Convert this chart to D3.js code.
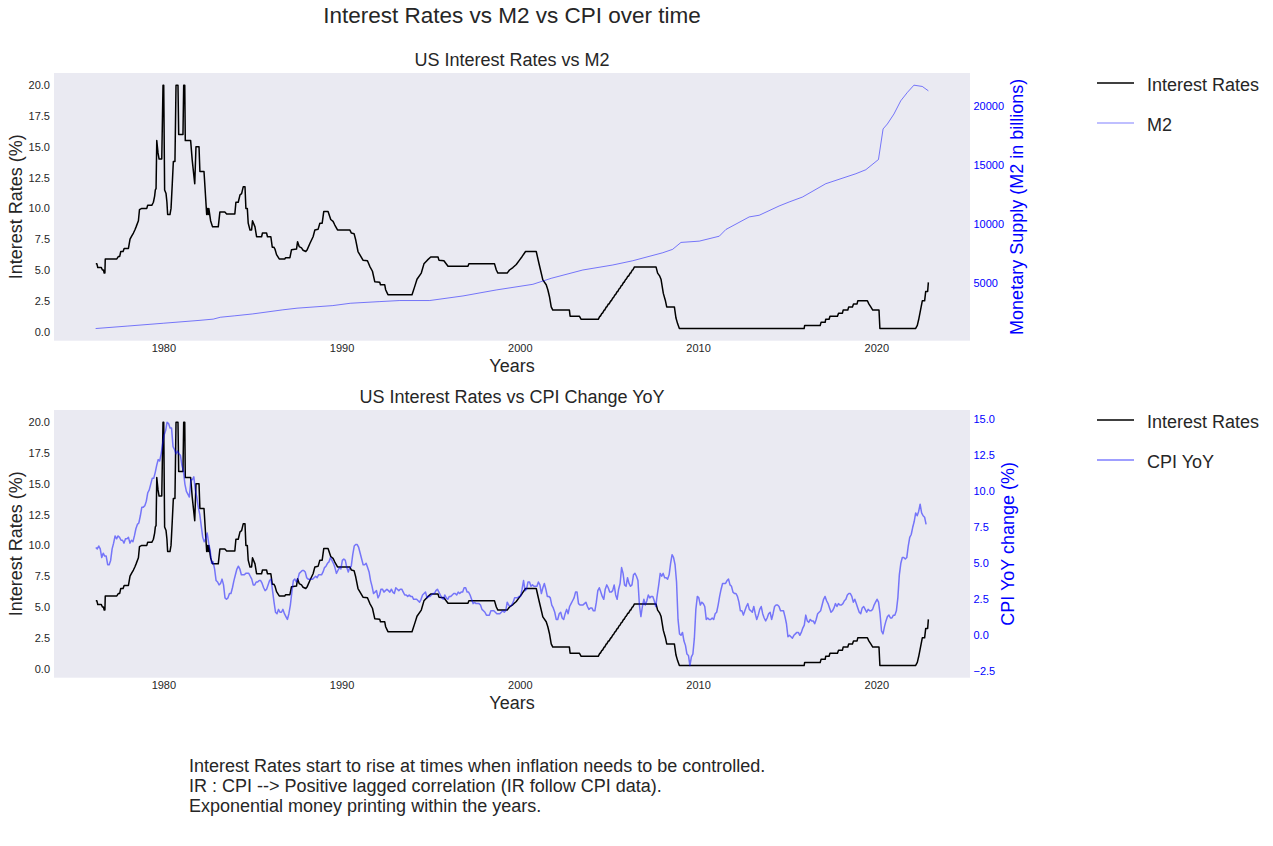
<!DOCTYPE html>
<html>
<head>
<meta charset="utf-8">
<script src="https://cdn.jsdelivr.net/npm/d3@7"></script>
<style>
  body { margin: 0; background: #fff; }
  text { font-family: "Liberation Sans", Arial, sans-serif; }
</style>
</head>
<body>
<svg id="chart" width="1273" height="846"></svg>
<script>
// ---- data ----
const irYears = [
  1976.21, 1976.27, 1976.32, 1976.52, 1976.58, 1976.64, 1976.68, 1976.72, 1976.74, 1977.39,
  1977.48, 1977.55, 1977.61, 1977.74, 1977.80, 1978.04, 1978.13, 1978.22, 1978.32, 1978.40,
  1978.47, 1978.60, 1978.66, 1978.79, 1979.07, 1979.12, 1979.35, 1979.44, 1979.51, 1979.55,
  1979.59, 1979.63, 1979.70, 1979.76, 1979.91, 1979.98, 1980.02, 1980.07, 1980.15, 1980.20,
  1980.24, 1980.37, 1980.43, 1980.50, 1980.56, 1980.65, 1980.71, 1980.82, 1980.86, 1981.10,
  1981.14, 1981.20, 1981.23, 1981.53, 1981.62, 1981.76, 1981.83, 1982.00, 1982.05, 1982.28,
  1982.43, 1982.47, 1982.52, 1982.55, 1982.65, 1982.76, 1983.08, 1983.17, 1983.45, 1983.55,
  1984.01, 1984.07, 1984.20, 1984.30, 1984.39, 1984.48, 1984.58, 1984.63, 1984.71, 1984.76,
  1984.86, 1984.95, 1985.00, 1985.14, 1985.23, 1985.51, 1985.56, 1985.79, 1985.84, 1986.03,
  1986.11, 1986.20, 1986.26, 1986.35, 1986.50, 1986.82, 1986.85, 1987.10, 1987.19, 1987.47,
  1987.53, 1987.62, 1987.75, 1987.84, 1987.99, 1988.07, 1988.22, 1988.40, 1988.50, 1988.68,
  1988.78, 1988.91, 1989.00, 1989.24, 1989.39, 1989.52, 1989.62, 1989.77, 1990.46, 1990.55,
  1990.70, 1990.79, 1990.92, 1991.02, 1991.20, 1991.45, 1991.58, 1991.73, 1991.86, 1992.14,
  1992.18, 1992.42, 1992.47, 1992.60, 1993.95, 1994.10, 1994.23, 1994.47, 1994.62, 1994.81,
  1995.00, 1995.41, 1995.46, 1995.74, 1995.97, 1997.09, 1997.14, 1998.58, 1998.68, 1998.77,
  1999.29, 1999.42, 1999.61, 1999.80, 1999.98, 2000.13, 2000.32, 2000.92, 2001.07, 2001.16,
  2001.29, 2001.48, 2001.57, 2001.66, 2001.76, 2001.85, 2002.78, 2002.82, 2003.34, 2003.44,
  2004.37, 2004.40, 2004.49, 2004.52, 2004.61, 2004.64, 2004.73, 2004.76, 2004.85, 2004.88,
  2004.97, 2005.01, 2005.10, 2005.13, 2005.22, 2005.25, 2005.34, 2005.37, 2005.46, 2005.49,
  2005.58, 2005.61, 2005.70, 2005.73, 2005.82, 2005.85, 2005.94, 2005.97, 2006.06, 2006.10,
  2006.19, 2006.22, 2006.31, 2006.34, 2006.43, 2007.64, 2007.73, 2007.85, 2007.92, 2008.05,
  2008.16, 2008.24, 2008.67, 2008.76, 2008.85, 2008.95, 2015.95, 2015.98, 2016.85, 2016.90,
  2017.13, 2017.16, 2017.35, 2017.40, 2017.82, 2017.88, 2018.10, 2018.14, 2018.40, 2018.45,
  2018.66, 2018.72, 2018.92, 2018.96, 2019.50, 2019.58, 2019.69, 2019.80, 2020.15, 2020.20,
  2022.20, 2022.30, 2022.38, 2022.58, 2022.71, 2022.77, 2022.88, 2022.92
];
const irRates = [
  5.5, 5.5, 5.2, 5.2, 5.0, 5.0, 4.75, 4.75, 5.9, 5.9,
  6.1, 6.1, 6.5, 6.5, 6.75, 6.75, 7.5, 7.75, 8.0, 8.25,
  8.5, 9.0, 9.9, 10.0, 10.0, 10.25, 10.25, 10.5, 11.0, 11.5,
  11.6, 15.5, 14.5, 14.0, 14.0, 20.0, 20.0, 11.5, 11.2, 10.5,
  9.5, 9.5, 10.0, 12.0, 13.8, 13.8, 20.0, 20.0, 16.0, 16.0,
  20.0, 20.0, 15.5, 15.5, 13.9, 12.0, 15.0, 15.0, 13.0, 13.0,
  9.5, 10.0, 9.5, 10.0, 9.0, 8.5, 8.5, 9.7, 9.7, 9.55,
  9.55, 10.5, 10.5, 11.1, 11.2, 11.75, 11.75, 10.0, 10.0, 8.8,
  8.25, 8.25, 9.0, 8.5, 7.7, 7.7, 8.0, 8.0, 7.7, 7.7,
  6.85, 6.85, 6.7, 6.25, 5.9, 5.9, 6.0, 6.0, 6.65, 6.7,
  7.3, 6.9, 6.8, 6.6, 6.5, 6.65, 7.15, 7.7, 8.25, 8.3,
  8.8, 8.8, 9.75, 9.75, 9.1, 8.95, 8.65, 8.25, 8.25, 8.0,
  7.95, 7.45, 6.5, 6.25, 5.8, 5.75, 5.3, 4.9, 4.05, 4.0,
  3.8, 3.8, 3.4, 3.0, 3.0, 3.65, 4.25, 4.75, 5.5, 5.8,
  6.05, 6.05, 5.8, 5.75, 5.3, 5.3, 5.5, 5.5, 5.0, 4.75,
  4.75, 5.0, 5.2, 5.45, 5.8, 6.1, 6.5, 6.5, 5.55, 5.0,
  4.2, 3.8, 3.4, 2.85, 2.0, 1.75, 1.75, 1.25, 1.25, 1.0,
  1.0, 1.0, 1.25, 1.25, 1.5, 1.5, 1.75, 1.75, 2.0, 2.0,
  2.25, 2.25, 2.5, 2.5, 2.75, 2.75, 3.0, 3.0, 3.25, 3.25,
  3.5, 3.5, 3.75, 3.75, 4.0, 4.0, 4.25, 4.25, 4.5, 4.5,
  4.75, 4.75, 5.0, 5.0, 5.25, 5.25, 4.75, 4.5, 4.25, 3.1,
  2.55, 2.0, 2.0, 1.1, 0.65, 0.25, 0.25, 0.5, 0.5, 0.75,
  0.75, 1.0, 1.0, 1.25, 1.25, 1.5, 1.5, 1.75, 1.75, 2.0,
  2.0, 2.25, 2.25, 2.5, 2.5, 2.25, 2.0, 1.75, 1.75, 0.25,
  0.25, 0.5, 1.0, 2.5, 2.5, 3.25, 3.25, 4.0
];

const m2Years = [
  1976.2, 1978.0, 1980.0, 1982.0, 1982.8, 1983.2, 1984.0, 1985.0, 1986.7, 1987.5,
  1989.5, 1990.5, 1992.14, 1993.26, 1994.94, 1996.81, 1998.68, 2000.73, 2001.76, 2003.53,
  2005.21, 2006.33, 2008.01, 2008.57, 2009.04, 2010.07, 2011.19, 2011.56, 2012.87, 2013.43,
  2014.55, 2015.11, 2015.86, 2017.16, 2018.85, 2019.41, 2020.12, 2020.38, 2020.62, 2020.99,
  2021.37, 2021.74, 2022.11, 2022.58, 2022.92
];
const m2Values = [
  1100, 1310, 1550, 1790, 1900, 2060, 2180, 2340, 2690, 2830,
  3050, 3250, 3390, 3480, 3480, 3870, 4380, 4860, 5370, 6075,
  6500, 6860, 7540, 7830, 8420, 8530, 8950, 9520, 10590, 10730,
  11520, 11860, 12280, 13410, 14260, 14600, 15470, 18070, 18490, 19340,
  20460, 21170, 21790, 21680, 21310
];

// monthly CPI YoY change (%), March 1976 .. October 2022
const cpiStartYear = 1976;
const cpiStartMonth = 3;
const cpiYoY = [
  6.1, 6.0, 6.2, 6.0, 5.4, 5.7, 5.5, 5.5, 4.9, 4.9,
  5.2, 6.0, 6.4, 6.9, 6.7, 6.9, 6.8, 6.6, 6.6, 6.4, 6.7, 6.7,
  6.8, 6.4, 6.6, 6.5, 6.9, 7.4, 7.7, 7.8, 8.3, 8.9, 8.9, 9.0,
  9.3, 9.9, 10.1, 10.5, 10.9, 10.9, 11.3, 11.8, 12.2, 12.1, 12.6, 13.3,
  13.9, 14.2, 14.8, 14.7, 14.4, 14.4, 13.1, 12.9, 12.6, 12.8, 12.6, 12.5,
  11.8, 11.4, 10.5, 10.0, 9.8, 9.6, 10.8, 10.8, 11.0, 10.1, 9.6, 8.9,
  8.4, 7.6, 6.8, 6.5, 6.7, 7.1, 6.4, 5.9, 5.0, 5.1, 4.6, 3.8,
  3.7, 3.5, 3.6, 3.9, 3.5, 2.6, 2.5, 2.6, 2.9, 2.9, 3.3, 3.8,
  4.2, 4.6, 4.8, 4.6, 4.2, 4.2, 4.2, 4.3, 4.3, 4.3, 4.1, 3.9,
  3.5, 3.5, 3.7, 3.7, 3.8, 3.8, 3.6, 3.3, 3.1, 3.2, 3.5, 3.8,
  3.9, 3.1, 2.3, 1.6, 1.5, 1.8, 1.6, 1.6, 1.8, 1.5, 1.3, 1.1,
  1.5, 2.1, 3.0, 3.8, 3.9, 3.7, 3.9, 4.3, 4.4, 4.5, 4.5, 4.4,
  4.0, 3.9, 3.9, 3.9, 3.9, 4.0, 4.1, 4.0, 4.2, 4.2, 4.2, 4.4,
  4.7, 4.8, 5.0, 5.1, 5.4, 5.2, 5.0, 4.7, 4.3, 4.5, 4.7, 4.6,
  5.2, 5.3, 5.2, 4.7, 4.4, 4.7, 4.8, 5.6, 6.2, 6.3, 6.3, 6.1,
  5.7, 5.3, 4.9, 4.9, 5.0, 4.7, 4.4, 3.8, 3.4, 2.9, 3.0, 3.1,
  2.6, 2.8, 3.2, 3.2, 3.0, 3.1, 3.2, 3.1, 3.0, 3.2, 3.0, 2.9,
  3.3, 3.2, 3.1, 3.2, 3.2, 3.0, 2.8, 2.8, 2.7, 2.8, 2.7, 2.7,
  2.5, 2.5, 2.5, 2.4, 2.3, 2.5, 2.8, 2.9, 3.0, 2.6, 2.7, 2.7,
  2.8, 2.9, 2.9, 3.1, 3.2, 3.0, 2.8, 2.6, 2.5, 2.8, 2.6, 2.5,
  2.7, 2.7, 2.8, 2.9, 2.9, 2.8, 3.0, 2.9, 3.0, 3.0, 3.3, 3.3,
  3.0, 3.0, 2.8, 2.5, 2.2, 2.3, 2.2, 2.2, 2.2, 2.1, 1.8, 1.7,
  1.6, 1.4, 1.4, 1.4, 1.7, 1.7, 1.7, 1.6, 1.5, 1.5, 1.5, 1.6,
  1.7, 1.6, 1.7, 2.3, 2.1, 2.0, 2.1, 2.3, 2.6, 2.6, 2.6, 2.7,
  2.7, 3.2, 3.8, 3.1, 3.2, 3.7, 3.7, 3.4, 3.5, 3.4, 3.4, 3.4,
  3.7, 3.5, 2.9, 3.3, 3.6, 3.2, 2.7, 2.7, 2.6, 2.1, 1.9, 1.6,
  1.1, 1.1, 1.5, 1.6, 1.2, 1.1, 1.5, 1.8, 1.5, 2.0, 2.2, 2.4,
  2.6, 3.0, 3.0, 2.2, 2.1, 2.1, 2.1, 2.2, 2.3, 2.0, 1.8, 1.9,
  1.9, 1.7, 1.7, 2.3, 3.1, 3.3, 3.0, 2.7, 2.5, 3.2, 3.5, 3.3,
  3.0, 3.0, 3.1, 3.5, 2.8, 2.5, 3.2, 3.6, 4.7, 4.3, 3.5, 3.4,
  4.0, 3.6, 3.4, 3.5, 4.2, 4.3, 4.1, 3.8, 2.1, 1.3, 2.0, 2.5,
  2.1, 2.4, 2.8, 2.6, 2.7, 2.7, 2.4, 2.0, 2.8, 3.5, 4.3, 4.1,
  4.3, 4.0, 4.0, 3.9, 4.2, 5.0, 5.6, 5.4, 4.9, 3.7, 1.1, 0.1,
  0.0, 0.2, -0.4, -0.7, -1.3, -1.4, -2.1, -1.5, -1.3, -0.2, 1.8, 2.7,
  2.6, 2.1, 2.3, 2.2, 2.0, 1.1, 1.2, 1.1, 1.1, 1.2, 1.1, 1.5,
  1.6, 2.1, 2.7, 3.2, 3.6, 3.6, 3.6, 3.8, 3.9, 3.5, 3.4, 3.0,
  2.9, 2.9, 2.7, 2.3, 1.7, 1.7, 1.4, 1.7, 2.0, 2.2, 1.8, 1.7,
  1.6, 2.0, 1.5, 1.1, 1.4, 1.8, 2.0, 1.5, 1.2, 1.0, 1.2, 1.5,
  1.6, 1.1, 1.5, 2.0, 2.1, 2.1, 2.0, 1.7, 1.7, 1.7, 1.3, 0.8,
  -0.1, 0.0, -0.1, -0.2, 0.0, 0.1, 0.2, 0.2, 0.0, 0.2, 0.5, 0.7,
  1.4, 1.0, 0.9, 1.1, 1.0, 1.0, 0.8, 1.1, 1.5, 1.6, 1.7, 2.1,
  2.5, 2.7, 2.4, 2.2, 1.9, 1.6, 1.7, 1.9, 2.2, 2.0, 2.2, 2.1,
  2.1, 2.2, 2.4, 2.5, 2.8, 2.9, 2.9, 2.7, 2.3, 2.5, 2.2, 1.9,
  1.6, 1.5, 1.9, 2.0, 1.8, 1.6, 1.8, 1.7, 1.7, 1.8, 2.1, 2.3,
  2.5, 2.3, 1.5, 0.3, 0.1, 0.6, 1.0, 1.3, 1.4, 1.2, 1.2, 1.4,
  1.4, 1.7, 2.6, 4.2, 5.0, 5.4, 5.4, 5.3, 5.4, 6.2, 6.8, 7.0,
  7.5, 7.9, 8.5, 8.3, 8.6, 9.1, 8.5, 8.3, 8.2, 7.7
];

const xTickYears = [1980, 1990, 2000, 2010, 2020];
const irTicks = [0, 2.5, 5, 7.5, 10, 12.5, 15, 17.5, 20];
const m2Ticks = [5000, 10000, 15000, 20000];
const cpiTicks = [-2.5, 0, 2.5, 5, 7.5, 10, 12.5, 15];

const figTitle = "Interest Rates vs M2 vs CPI over time";
const notes = [
  "Interest Rates start to rise at times when inflation needs to be controlled.",
  "IR : CPI --> Positive lagged correlation (IR follow CPI data).",
  "Exponential money printing within the years."
];

// ---- helpers ----
const zip = (a, b) => a.map((v, i) => [v, b[i]]);
const cpiYears = cpiYoY.map((_, i) => cpiStartYear + (cpiStartMonth - 1 + i + 0.5) / 12);

// matplotlib style 5% margins
function padded(ext) {
  const s = ext[1] - ext[0];
  return [ext[0] - 0.05 * s, ext[1] + 0.05 * s];
}

const TEXT = "#262626";
const BLUE = "#0000ff";

const svg = d3.select("#chart");

const allYears = irYears.concat(m2Years, cpiYears);
const x = d3.scaleLinear().domain(padded(d3.extent(allYears))).range([54, 970]);

svg.append("text")
  .attr("x", 512).attr("y", 23)
  .attr("text-anchor", "middle")
  .attr("font-size", 22.5)
  .attr("fill", TEXT)
  .text(figTitle);

function drawPanel(opt) {
  const { top, bottom } = opt;
  const g = svg.append("g");

  g.append("rect")
    .attr("x", x.range()[0]).attr("y", top)
    .attr("width", x.range()[1] - x.range()[0])
    .attr("height", bottom - top)
    .attr("fill", "#eaeaf2");

  const yL = d3.scaleLinear().domain(padded(d3.extent(irRates))).range([bottom, top]);
  const yR = d3.scaleLinear().domain(padded(d3.extent(opt.rValues))).range([bottom, top]);

  // axes
  const xAxis = g.append("g")
    .attr("transform", `translate(0,${bottom})`)
    .call(d3.axisBottom(x).tickValues(xTickYears).tickFormat(d3.format("d")).tickSize(0).tickPadding(4));
  const lAxis = g.append("g")
    .attr("transform", `translate(${x.range()[0]},0)`)
    .call(d3.axisLeft(yL).tickValues(irTicks).tickFormat(d3.format(".1f")).tickSize(0).tickPadding(4));
  const rAxis = g.append("g")
    .attr("transform", `translate(${x.range()[1]},0)`)
    .call(d3.axisRight(yR).tickValues(opt.rTicks).tickFormat(opt.rFormat).tickSize(0).tickPadding(3.5));

  [xAxis, lAxis, rAxis].forEach(a => {
    a.select(".domain").remove();
    a.selectAll("text")
      .attr("font-size", 11)
      .attr("font-family", '"Liberation Sans", Arial, sans-serif');
  });
  xAxis.selectAll("text").attr("fill", TEXT);
  lAxis.selectAll("text").attr("fill", TEXT);
  rAxis.selectAll("text").attr("fill", BLUE);

  // lines
  const irLine = d3.line().x(d => x(d[0])).y(d => yL(d[1]));
  g.append("path")
    .attr("d", irLine(zip(irYears, irRates)))
    .attr("fill", "none")
    .attr("stroke", "#000")
    .attr("stroke-width", 1.5)
    .attr("stroke-linejoin", "round");

  const rLine = d3.line().x(d => x(d[0])).y(d => yR(d[1]));
  g.append("path")
    .attr("d", rLine(zip(opt.rYears, opt.rValues)))
    .attr("fill", "none")
    .attr("stroke", BLUE)
    .attr("stroke-opacity", 0.5)
    .attr("stroke-width", opt.rWidth)
    .attr("stroke-linejoin", "round");

  // titles and labels
  const cx = (x.range()[0] + x.range()[1]) / 2;
  const cy = (top + bottom) / 2;
  g.append("text")
    .attr("x", cx).attr("y", top - 7)
    .attr("text-anchor", "middle")
    .attr("font-size", 18)
    .attr("fill", TEXT)
    .text(opt.title);

  g.append("text")
    .attr("x", cx).attr("y", bottom + 31)
    .attr("text-anchor", "middle")
    .attr("font-size", 18)
    .attr("fill", TEXT)
    .text("Years");

  g.append("text")
    .attr("transform", `translate(21.5,${cy}) rotate(-90)`)
    .attr("text-anchor", "middle")
    .attr("font-size", 18)
    .attr("fill", TEXT)
    .text("Interest Rates (%)");

  g.append("text")
    .attr("transform", `translate(${opt.rLabelX},${cy}) rotate(-90)`)
    .attr("text-anchor", "middle")
    .attr("font-size", 18)
    .attr("fill", BLUE)
    .text(opt.rLabel);

  // legend
  const legend = [
    { name: "Interest Rates", color: "#000", opacity: 1, width: 1.5 },
    { name: opt.rName, color: BLUE, opacity: 0.5, width: opt.rWidth }
  ];
  const lg = g.append("g").attr("transform", `translate(1097,${top + 10})`);
  legend.forEach((d, i) => {
    lg.append("line")
      .attr("x1", 0).attr("x2", 37)
      .attr("y1", i * 40).attr("y2", i * 40)
      .attr("stroke", d.color)
      .attr("stroke-opacity", d.opacity)
      .attr("stroke-width", d.width);
    lg.append("text")
      .attr("x", 50).attr("y", i * 40 + 7.5)
      .attr("font-size", 18)
      .attr("fill", TEXT)
      .text(d.name);
  });
}

drawPanel({
  top: 73, bottom: 340.7,
  title: "US Interest Rates vs M2",
  rYears: m2Years, rValues: m2Values, rTicks: m2Ticks,
  rFormat: d3.format("d"), rWidth: 1,
  rLabel: "Monetary Supply (M2 in billions)", rLabelX: 1023,
  rName: "M2"
});

drawPanel({
  top: 410, bottom: 677.7,
  title: "US Interest Rates vs CPI Change YoY",
  rYears: cpiYears, rValues: cpiYoY, rTicks: cpiTicks,
  rFormat: d3.format(".1f"), rWidth: 1.5,
  rLabel: "CPI YoY change (%)", rLabelX: 1014,
  rName: "CPI YoY"
});

svg.append("g")
  .selectAll("text")
  .data(notes)
  .join("text")
  .attr("x", 189)
  .attr("y", (d, i) => 771.5 + i * 20)
  .attr("font-size", 18)
  .attr("fill", TEXT)
  .text(d => d);
</script>
</body>
</html>
